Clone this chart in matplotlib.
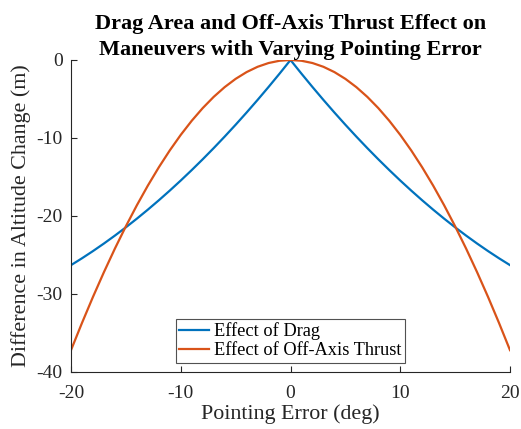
import matplotlib
matplotlib.use("Agg")
import matplotlib.pyplot as plt

pointing_error = list(range(-20, 21))

drag_half = [0.0, -1.752, -3.458, -5.118, -6.732, -8.30, -9.822, -11.298, -12.728,
             -14.112, -15.45, -16.742, -17.988, -19.188, -20.342, -21.45, -22.512,
             -23.528, -24.498, -25.422, -26.3]
thrust_half = [0.0, -0.097, -0.388, -0.872, -1.549, -2.419, -3.479, -4.729, -6.167,
               -7.791, -9.6, -11.591, -13.761, -16.107, -18.628, -21.319, -24.177,
               -27.198, -30.378, -33.714, -37.2]
drag_effect = drag_half[:0:-1] + drag_half
thrust_effect = thrust_half[:0:-1] + thrust_half

x_ticks = [-20, -10, 0, 10, 20]
y_ticks = [0, -10, -20, -30, -40]

plt.rcParams['font.family'] = ['Liberation Serif', 'DejaVu Serif']
plt.rcParams['axes.unicode_minus'] = False

fig = plt.figure(figsize=(5.21, 4.29), dpi=100)
ax = fig.add_axes([71/521, 57/429, 439/521, 312/429])

ax.plot(pointing_error, drag_effect, color='#0072BD', lw=1.6, label='Effect of Drag')
ax.plot(pointing_error, thrust_effect, color='#D95319', lw=1.6, label='Effect of Off-Axis Thrust')

ax.set_xlim(-20, 20)
ax.set_ylim(-40, 0)
ax.set_xticks(x_ticks)
ax.set_yticks(y_ticks)
ax.tick_params(direction='in', length=4, width=0.8, labelsize=14, colors='#262626',
               top=False, right=False)
ax.tick_params(axis='x', pad=9)
ax.tick_params(axis='y', pad=6)
for s in ['top', 'right']:
    ax.spines[s].set_visible(False)
for s in ['left', 'bottom']:
    ax.spines[s].set_color('#262626')
    ax.spines[s].set_linewidth(0.8)

ax.set_xlabel('Pointing Error (deg)', fontsize=15.8, color='#262626', labelpad=2)
ax.set_ylabel('Difference in Altitude Change (m)', fontsize=15.8, color='#262626', labelpad=4)
ax.set_title('Drag Area and Off-Axis Thrust Effect on\nManeuvers with Varying Pointing Error',
             fontsize=16, fontweight='bold', color='black', pad=3, linespacing=1.4)

leg = ax.legend(loc='lower center', fontsize=13.2, frameon=True, fancybox=False,
                edgecolor='#262626', handlelength=1.6, handletextpad=0.3,
                borderpad=0.2, labelspacing=0.1, borderaxespad=0.5)
leg.get_frame().set_linewidth(0.8)

fig.savefig('out.png', dpi=100)
